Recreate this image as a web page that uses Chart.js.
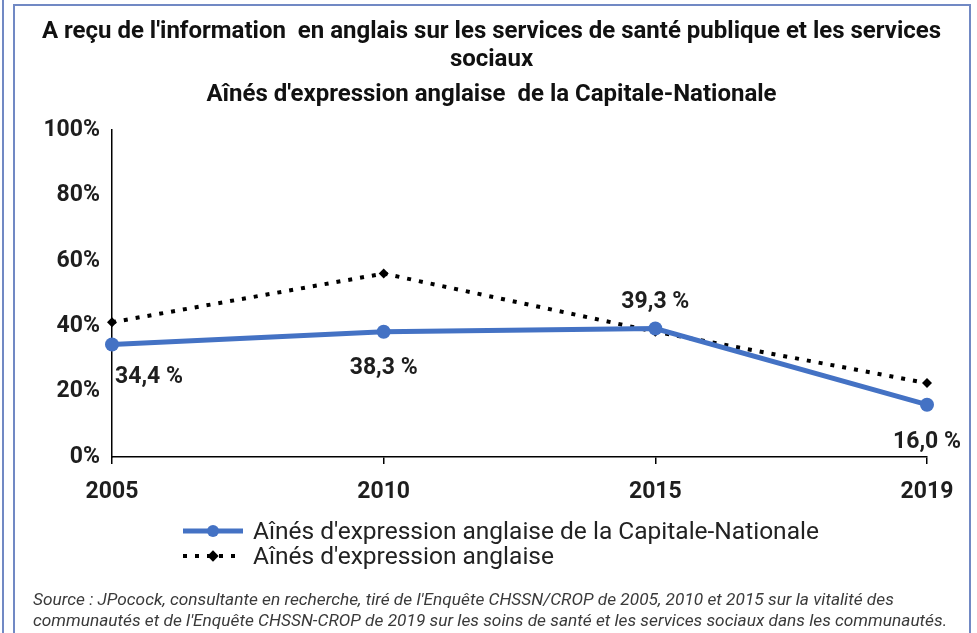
<!DOCTYPE html>
<html lang="fr">
<head>
<meta charset="utf-8">
<title>Information en anglais - santé et services sociaux</title>
<script src="https://cdn.jsdelivr.net/npm/chart.js@4.4.1/dist/chart.umd.min.js"></script>
<style>
  html, body { margin: 0; padding: 0; background: #fff; }
  #wrap { position: relative; width: 977px; height: 633px; overflow: hidden; }
  #chart { position: absolute; left: 0; top: 0; }
  .frame { position: absolute; background: #7189c4; }
  #title { position: absolute; left: 0; width: 983px; top: 16px; text-align: center; font-family: Roboto, sans-serif; font-weight: bold; font-size: 24px; line-height: 28px; color: #111; white-space: pre; }
  #title .last { margin-top: 7px; }
  #legend { position: absolute; left: 183px; top: 518px; font-family: Roboto, sans-serif; font-size: 24.5px; color: #222; }
  #legend .row { display: flex; align-items: center; height: 25px; }
  #legend svg { margin-right: 10px; }
  #source { position: absolute; left: 33px; top: 589px; font-family: Roboto, sans-serif; font-style: italic; font-size: 17.3px; line-height: 21px; color: #3a3a3a; white-space: nowrap; }
</style>
</head>
<body>
<div id="wrap">
  <canvas id="chart" width="977" height="633"></canvas>
  <div class="frame" style="left:2px; top:0; width:2px; height:633px;"></div>
  <div class="frame" style="left:13px; top:4px; width:2px; height:629px;"></div>
  <div class="frame" style="left:13px; top:4px; width:958px; height:2px;"></div>
  <div class="frame" style="left:969px; top:4px; width:2px; height:629px;"></div>
  <div id="title"></div>
  <div id="legend"></div>
  <div id="source">Source : JPocock, consultante en recherche, tiré de l'Enquête CHSSN/CROP de 2005, 2010 et 2015 sur la vitalité des<br>communautés et de l'Enquête CHSSN-CROP de 2019 sur les soins de santé et les services sociaux dans les communautés.</div>
</div>
<script>
// survey years and shares (%) of anglophone seniors who got information in English
const years = ['2005', '2010', '2015', '2019'];
const capitaleNationale = [34.4, 38.3, 39.3, 16.0];
const ensembleAnglophones = [41.2, 56.1, 38.3, 22.6];
const seriesNames = [
  "Aînés d'expression anglaise de la Capitale-Nationale",
  "Aînés d'expression anglaise"
];
const titleLines = [
  "A reçu de l'information  en anglais sur les services de santé publique et les services",
  'sociaux',
  "Aînés d'expression anglaise  de la Capitale-Nationale"
];

const BLUE = '#4472C4';
const tickFont = { family: 'Roboto', size: 23, weight: 'bold' };

// where each value label sits relative to its point
const labelPlacement = [
  { dx: 3, dy: 33, align: 'left' },
  { dx: 0, dy: 36, align: 'center' },
  { dx: 0, dy: -26, align: 'center' },
  { dx: 0, dy: 38, align: 'center' }
];

function fmt(v) {
  return v.toFixed(1).replace('.', ',') + ' %';
}

const valueLabels = {
  id: 'valueLabels',
  afterDatasetsDraw(chart) {
    const ctx = chart.ctx;
    const meta = chart.getDatasetMeta(0);
    ctx.save();
    ctx.font = 'bold 23px Roboto';
    ctx.fillStyle = '#1e1e1e';
    ctx.textBaseline = 'middle';
    meta.data.forEach((pt, i) => {
      const p = labelPlacement[i];
      ctx.textAlign = p.align;
      ctx.fillText(fmt(capitaleNationale[i]), pt.x + p.dx, pt.y + p.dy);
    });
    ctx.restore();
  }
};

// title, three lines, the last one a little further down
const titleBox = document.getElementById('title');
titleLines.forEach((t, i) => {
  const d = document.createElement('div');
  d.textContent = t;
  if (i === titleLines.length - 1) d.className = 'last';
  titleBox.appendChild(d);
});

const chart = new Chart(document.getElementById('chart'), {
  type: 'line',
  data: {
    labels: years,
    datasets: [{
      label: seriesNames[0],
      data: capitaleNationale,
      borderColor: BLUE,
      backgroundColor: BLUE,
      borderWidth: 5,
      pointStyle: 'circle',
      pointRadius: 7,
      pointBorderWidth: 0,
      tension: 0
    }, {
      label: seriesNames[1],
      data: ensembleAnglophones,
      borderColor: '#000',
      backgroundColor: '#000',
      borderWidth: 4,
      borderDash: [4, 8],
      pointStyle: 'rectRot',
      pointRadius: 5,
      pointBorderWidth: 0,
      tension: 0
    }]
  },
  options: {
    responsive: false,
    animation: false,
    layout: { padding: { left: 0, right: 50, top: 130, bottom: 116 } },
    scales: {
      x: {
        offset: false,
        grid: { display: true, drawOnChartArea: false, drawTicks: true, tickLength: 7, color: '#000', lineWidth: 1.5 },
        border: { display: true, color: '#000', width: 1.5 },
        ticks: { color: '#1e1e1e', font: tickFont, padding: 14, maxRotation: 0 },
        afterFit(scale) { scale.height = 60; }
      },
      y: {
        min: 0,
        max: 100,
        grid: { display: false, drawTicks: false },
        border: { display: true, color: '#000', width: 1.5 },
        ticks: {
          stepSize: 20,
          color: '#1e1e1e',
          font: tickFont,
          padding: 12,
          callback: v => v + '%'
        },
        afterFit(scale) { scale.width = 112; }
      }
    },
    plugins: {
      legend: { display: false },
      tooltip: { enabled: false },
      title: { display: false }
    }
  },
  plugins: [valueLabels]
});

// legend rows built from the datasets
const legendBox = document.getElementById('legend');
chart.data.datasets.forEach(ds => {
  const dash = ds.borderDash ? ` stroke-dasharray="${ds.borderDash.join(' ')}"` : '';
  const marker = ds.pointStyle === 'circle'
    ? `<circle cx="30" cy="10" r="6" fill="${ds.backgroundColor}"/>`
    : `<rect x="26" y="6" width="8" height="8" fill="${ds.backgroundColor}" transform="rotate(45 30 10)"/>`;
  const row = document.createElement('div');
  row.className = 'row';
  row.innerHTML = `<svg width="60" height="20"><line x1="0" y1="10" x2="60" y2="10" stroke="${ds.borderColor}" stroke-width="${ds.borderWidth}"${dash}/>${marker}</svg><span>${ds.label}</span>`;
  legendBox.appendChild(row);
});
</script>
</body>
</html>
